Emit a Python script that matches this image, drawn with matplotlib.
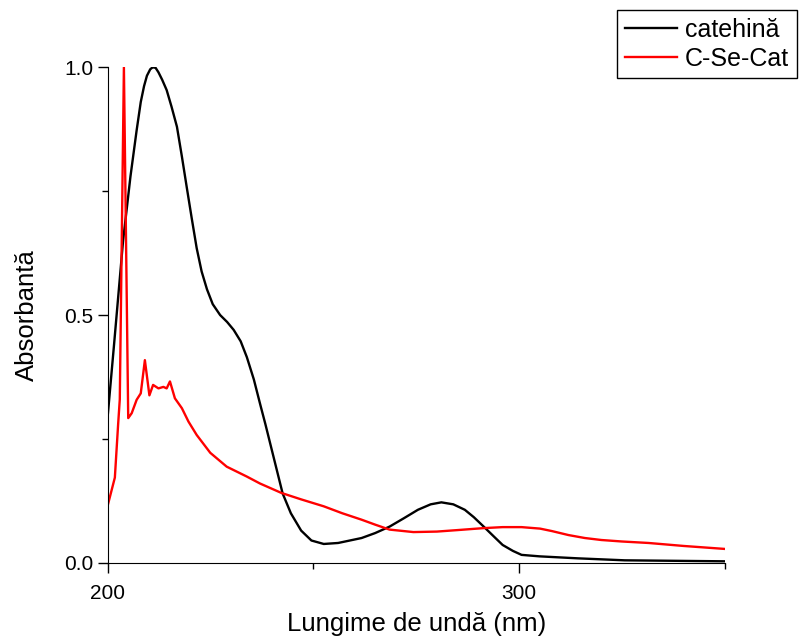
import matplotlib.pyplot as plt
from matplotlib.ticker import MultipleLocator, FormatStrFormatter

plt.rcParams['font.family'] = ['Liberation Sans', 'DejaVu Sans']

# catehina
wl_cat = [200, 201.5, 203.7, 205.5, 207, 208, 208.8, 209.5, 210.3, 210.9, 211.6, 212.3,
          213.2, 214.3, 215.5, 216.8, 218, 219.2, 220.4, 221.6, 222.8, 224.1, 225.5,
          227.3, 229, 230.6, 232.3, 233.8, 235.5, 237.1, 238.3, 239.5, 241, 242.5,
          244.5, 247, 249.5, 252.5, 256, 261.7, 265, 268.5, 272, 275.4, 278.5, 281.1,
          284, 286.8, 289, 291.4, 294, 296, 298.5, 300.6, 305, 314.3, 325.7, 338, 350]
abs_cat = [0.30, 0.44, 0.65, 0.78, 0.873, 0.93, 0.962, 0.983, 0.996, 1.0, 0.999, 0.99,
           0.975, 0.954, 0.92, 0.88, 0.82, 0.757, 0.695, 0.635, 0.588, 0.552, 0.522,
           0.5, 0.486, 0.47, 0.447, 0.415, 0.37, 0.318, 0.28, 0.24, 0.19, 0.14,
           0.10, 0.065, 0.045, 0.038, 0.04, 0.05, 0.06, 0.073, 0.09, 0.107, 0.118,
           0.122, 0.118, 0.107, 0.092, 0.073, 0.052, 0.036, 0.024, 0.016, 0.013, 0.009,
           0.005, 0.004, 0.003]

# C-Se-Cat
wl_cse = [200, 201.7, 202.5, 202.9, 203.9, 204.95, 205.8, 207, 208, 209, 210.1, 211, 212.3,
          213.5, 214.3, 215.1, 216.3, 218, 219.6, 221.6, 224.9, 228.9, 233.8, 237,
          242.2, 247, 252.5, 257, 261.7, 265, 268.5, 274.3, 280, 285, 291.4, 296,
          300.6, 305.1, 308, 312, 316, 320, 325, 331.5, 340, 350]
abs_cse = [0.117, 0.172, 0.28, 0.33, 1.0, 0.292, 0.302, 0.329, 0.342, 0.409, 0.338, 0.359,
           0.352, 0.355, 0.352, 0.366, 0.332, 0.312, 0.285, 0.258, 0.222, 0.194, 0.174,
           0.16, 0.141, 0.128, 0.114, 0.1, 0.087, 0.077, 0.067, 0.062, 0.063, 0.066,
           0.07, 0.072, 0.072, 0.069, 0.064, 0.056, 0.05, 0.046, 0.043, 0.04, 0.034,
           0.028]

fig = plt.figure(figsize=(7.99, 6.41), dpi=100)
ax = fig.add_axes([0.135, 0.122, 0.772, 0.773])
ax.plot(wl_cat, abs_cat, color='black', lw=1.7, label='catehină')
ax.plot(wl_cse, abs_cse, color='red', lw=1.7, label='C-Se-Cat')

ax.set_xlim(200, 350)
ax.set_ylim(0, 1.0)
ax.spines['top'].set_visible(False)
ax.spines['right'].set_visible(False)
ax.xaxis.set_major_locator(MultipleLocator(100))
ax.xaxis.set_minor_locator(MultipleLocator(50))
ax.yaxis.set_major_locator(MultipleLocator(0.5))
ax.yaxis.set_minor_locator(MultipleLocator(0.25))
ax.yaxis.set_major_formatter(FormatStrFormatter('%.1f'))
ax.tick_params(which='major', direction='out', length=7, width=1, labelsize=15)
ax.tick_params(which='minor', direction='out', length=4, width=1)
ax.tick_params(axis='x', pad=8)
ax.set_xlabel('Lungime de undă (nm)', fontsize=18.5, labelpad=7)
ax.set_ylabel('Absorbantă', fontsize=18.5, labelpad=18)

leg = fig.legend(loc='upper right', bbox_to_anchor=(0.997, 0.984), fontsize=18,
                 fancybox=False, edgecolor='black', framealpha=1,
                 handlelength=2.1, handletextpad=0.3, labelspacing=0.2,
                 borderpad=0.3, borderaxespad=0)
leg.get_frame().set_linewidth(1)

plt.savefig('out.png', dpi=100)
